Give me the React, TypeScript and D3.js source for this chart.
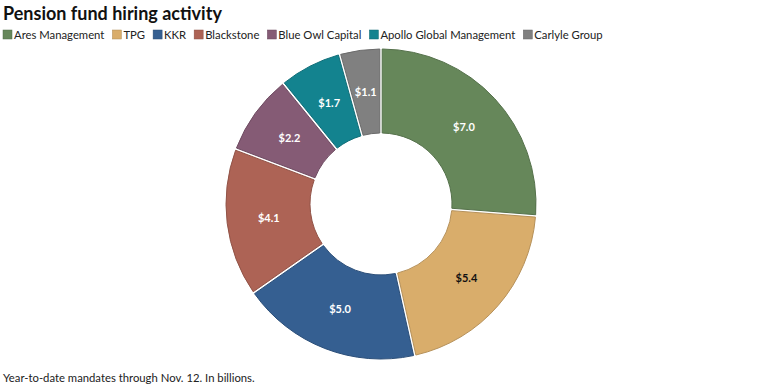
import React, { useEffect, useRef } from 'react';
import * as d3 from 'd3';

const firms = ['Ares Management', 'TPG', 'KKR', 'Blackstone', 'Blue Owl Capital', 'Apollo Global Management', 'Carlyle Group'];
const mandates = [7.0, 5.4, 5.0, 4.1, 2.2, 1.7, 1.1];
const colors = ['#66875a', '#d9ad6b', '#355f91', '#ad6355', '#855b75', '#13838f', '#808080'];
const labelColors = ['#fff', '#111', '#fff', '#fff', '#fff', '#fff', '#fff'];

const title = 'Pension fund hiring activity';
const note = 'Year-to-date mandates through Nov. 12. In billions.';

const W = 760;
const H = 387;
const FONT = 'Lato, "Open Sans", sans-serif';

const App = () => {
  const ref = useRef<SVGSVGElement>(null);

  useEffect(() => {
    const svg = d3.select(ref.current);
    svg.selectAll('*').remove();

    svg.append('text')
      .attr('x', 3)
      .attr('y', 20)
      .style('font-family', FONT)
      .style('font-weight', 700)
      .style('font-size', '18px')
      .attr('fill', '#111')
      .text(title);

    // legend, laid out by measured widths
    let x = 3;
    firms.forEach((f, i) => {
      const g = svg.append('g').attr('transform', `translate(${x},0)`);
      g.append('rect')
        .attr('x', 0).attr('y', 30)
        .attr('width', 9).attr('height', 9)
        .attr('fill', colors[i])
        .attr('stroke', d3.color(colors[i])!.darker(0.6).toString())
        .attr('stroke-width', 0.5);
      const t = g.append('text')
        .attr('x', 11)
        .attr('y', 39)
        .style('font-family', FONT)
        .style('font-size', '11.3px')
        .attr('fill', '#222')
        .text(f);
      const w = (t.node() as SVGTextElement).getComputedTextLength();
      x += 11 + w + 8;
    });

    const cx = 381;
    const cy = 204;
    const outer = 155;
    const inner = 71;

    const pie = d3.pie<number>().sort(null).value(d => d).padAngle(0.014);
    const arc = d3.arc<d3.PieArcDatum<number>>().innerRadius(inner).outerRadius(outer);
    const labelArc = d3.arc<d3.PieArcDatum<number>>().innerRadius((inner + outer) / 2).outerRadius((inner + outer) / 2);

    const g = svg.append('g').attr('transform', `translate(${cx},${cy})`);
    const arcs = pie(mandates);

    g.selectAll('path')
      .data(arcs)
      .join('path')
      .attr('d', arc)
      .attr('fill', (d, i) => colors[i])
      .attr('stroke', (d, i) => d3.color(colors[i])!.darker(0.5).toString())
      .attr('stroke-width', 1);

    g.selectAll('text.lbl')
      .data(arcs)
      .join('text')
      .attr('class', 'lbl')
      .attr('transform', d => `translate(${labelArc.centroid(d)})`)
      .attr('text-anchor', 'middle')
      .attr('dy', '0.35em')
      .style('font-family', FONT)
      .style('font-weight', 700)
      .style('font-size', '11px')
      .attr('fill', (d, i) => labelColors[i])
      .text(d => `$${d.data.toFixed(1)}`);

    svg.append('text')
      .attr('x', 3)
      .attr('y', 382)
      .style('font-family', FONT)
      .style('font-size', '11.3px')
      .attr('fill', '#222')
      .text(note);
  }, []);

  return (
    <svg ref={ref} width={W} height={H} style={{ position: 'absolute', left: 0, top: 0, background: '#fff' }} />
  );
};

export default App;
